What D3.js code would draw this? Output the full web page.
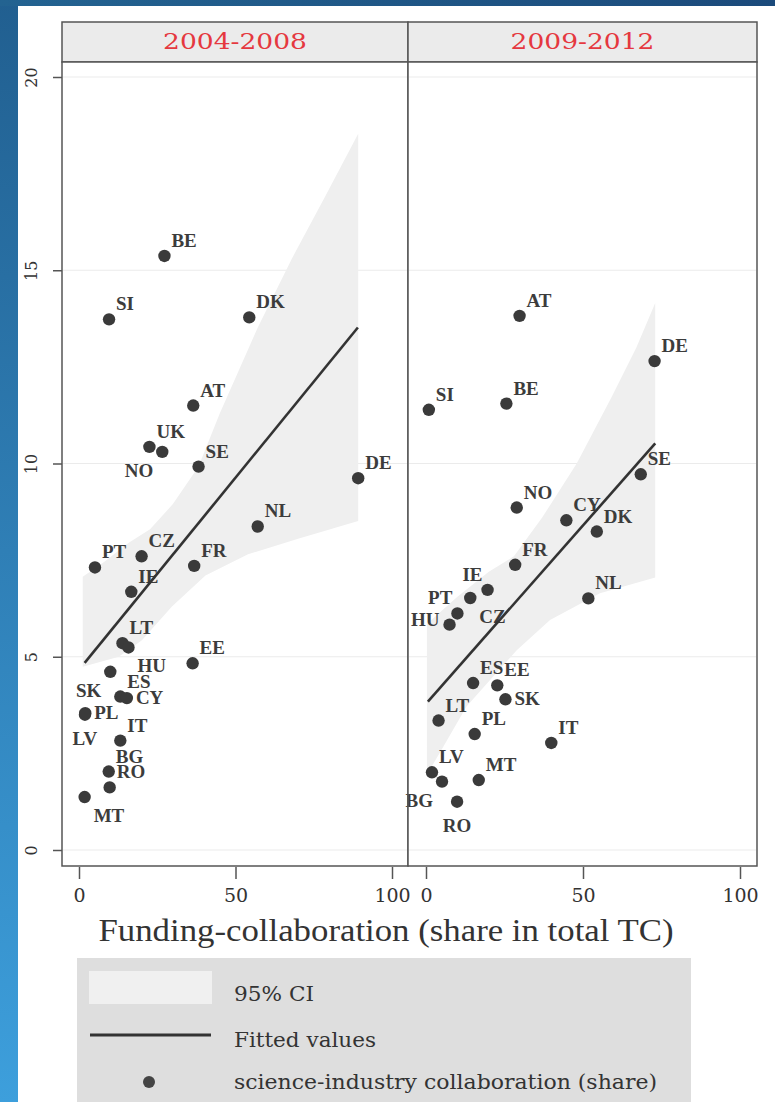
<!DOCTYPE html>
<html><head><meta charset="utf-8">
<script src="https://cdn.jsdelivr.net/npm/d3@7"></script>
<style>html,body{margin:0;padding:0;background:#fff;}svg{display:block;}</style>
</head><body>
<svg id="chart" width="775" height="1102"></svg>
<script>
// ---------- DATA ----------
const panels = ["2004-2008", "2009-2012"];
const yTicks = [0, 5, 10, 15, 20];
const xTicks = [0, 50, 100];

const countries0408 = ["BE","SI","DK","AT","UK","NO","SE","DE","NL","PT","CZ","FR","IE","LT","HU","EE","SK","ES","CY","PL","LV","IT","BG","RO","MT"];
const funding0408   = [27.3, 9.6, 54.4, 36.5, 22.5, 26.6, 38.2, 89.2, 57.1, 5.1, 20.0, 36.8, 16.7, 13.9, 15.8, 36.3, 10.0, 13.2, 15.3, 2.0, 1.9, 13.2, 9.5, 9.8, 1.8];
const sic0408       = [15.37, 13.73, 13.78, 11.50, 10.43, 10.30, 9.92, 9.62, 8.37, 7.31, 7.60, 7.35, 6.68, 5.35, 5.24, 4.83, 4.61, 3.97, 3.93, 3.54, 3.50, 2.83, 2.03, 1.62, 1.37];
const labelClock0408 = [1,1,1,1,1,7,1,1,1,1,1,1,1,1,5,1,7,1,3,3,6,1,1,1,5];

const countries0912 = ["AT","DE","SI","BE","SE","NO","CY","DK","FR","IE","CZ","PT","HU","NL","ES","EE","SK","LT","PL","IT","LV","BG","MT","RO"];
const funding0912   = [29.8, 72.8, 0.9, 25.6, 68.4, 28.9, 44.7, 54.4, 28.4, 19.6, 14.1, 10.0, 7.5, 51.7, 15.0, 22.7, 25.3, 4.0, 15.5, 39.9, 1.9, 5.1, 16.8, 9.9];
const sic0912       = [13.82, 12.65, 11.39, 11.55, 9.72, 8.86, 8.53, 8.24, 7.38, 6.73, 6.52, 6.12, 5.83, 6.51, 4.32, 4.26, 3.90, 3.35, 3.00, 2.77, 2.01, 1.77, 1.81, 1.25];
const labelClock0912 = [1,1,1,1,1,1,1,1,1,11,5,11,9,1,1,1,3,1,1,1,1,7,1,6];

// fitted line end points [funding, sic]
const fit0408 = [[1.8, 4.84], [89.1, 13.52]];
const fit0912 = [[0.6, 3.84], [73.0, 10.52]];

// 95% CI band boundaries [funding, sic]
const ciUpper0408 = [[1.2,7.07],[8,7.45],[15.9,7.95],[22.7,8.3],[30,8.95],[38.2,9.92],[45,11.3],[57,13.5],[68,15.3],[78.6,16.9],[89.2,18.53]];
const ciLower0408 = [[1.2,4.74],[12.7,5.0],[20.1,5.43],[29.7,6.3],[40.4,7.1],[54,7.65],[70,8.05],[89.2,8.51]];
const ciUpper0912 = [[0.3,5.85],[10,6.55],[20,7.2],[28,7.6],[37,8.6],[48,10.0],[59,11.7],[67,13.0],[73,14.15]];
const ciLower0912 = [[0.3,1.95],[5.5,2.67],[12.9,3.71],[20.4,4.40],[28.9,5.17],[39.5,5.95],[55.4,6.64],[73,7.05]];

const legendLabels = ["95% CI", "Fitted values", "science-industry collaboration (share)"];
const xTitle = "Funding-collaboration (share in total TC)";

// ---------- LAYOUT ----------
const svg = d3.select("#chart");
const W = 775, H = 1102;
const panelTop = 62, panelBottom = 866, stripTop = 22;
const panelBounds = [[62, 408], [408, 757]];
const y = d3.scaleLinear().domain([0, 20]).range([850, 77]);
const xScales = [
  d3.scaleLinear().domain([0, 100]).range([79, 392]),
  d3.scaleLinear().domain([0, 100]).range([426, 740])
];
const serif = "'DejaVu Serif', serif";
const tserif = "'Liberation Serif', serif";
const ink = "#3a3a3a";

// background frame
const defs = svg.append("defs");
const g1 = defs.append("linearGradient").attr("id","leftGrad").attr("x1",0).attr("y1",0).attr("x2",0).attr("y2",1);
g1.append("stop").attr("offset","0%").attr("stop-color","#215f90");
g1.append("stop").attr("offset","100%").attr("stop-color","#3d9fdc");
const g2 = defs.append("linearGradient").attr("id","topGrad").attr("x1",0).attr("y1",0).attr("x2",1).attr("y2",0);
g2.append("stop").attr("offset","0%").attr("stop-color","#236391");
g2.append("stop").attr("offset","100%").attr("stop-color","#1b4a7b");
svg.append("rect").attr("width",W).attr("height",H).attr("fill","#ffffff");
svg.append("rect").attr("x",0).attr("y",0).attr("width",18).attr("height",H).attr("fill","url(#leftGrad)");
svg.append("rect").attr("x",0).attr("y",0).attr("width",W).attr("height",6).attr("fill","url(#topGrad)");

const data = [
  {countries: countries0408, fx: funding0408, sy: sic0408, clock: labelClock0408, fit: fit0408, up: ciUpper0408, lo: ciLower0408},
  {countries: countries0912, fx: funding0912, sy: sic0912, clock: labelClock0912, fit: fit0912, up: ciUpper0912, lo: ciLower0912}
];

const clockOffsets = {
  1:  {dx: 7,  dy: -9, anchor: "start"},
  3:  {dx: 9,  dy: 6,  anchor: "start"},
  5:  {dx: 9,  dy: 25, anchor: "start"},
  6:  {dx: 0,  dy: 30, anchor: "middle"},
  7:  {dx: -9, dy: 25, anchor: "end"},
  9:  {dx: -10,dy: 1,  anchor: "end"},
  11: {dx: -5, dy: -9, anchor: "end"},
  12: {dx: 0,  dy: -12,anchor: "middle"}
};

panels.forEach((name, i) => {
  const [l, r] = panelBounds[i];
  const x = xScales[i];
  const d = data[i];
  const g = svg.append("g");

  // strip
  g.append("rect").attr("x", l).attr("y", stripTop).attr("width", r - l).attr("height", panelTop - stripTop)
    .attr("fill", "#ebebeb").attr("stroke", "#555").attr("stroke-width", 1.5);
  g.append("text").attr("x", (l + r) / 2).attr("y", 49).attr("text-anchor", "middle")
    .attr("font-family", serif).attr("font-size", 22).attr("fill", "#e5383f")
    .attr("textLength", 144).attr("lengthAdjust", "spacingAndGlyphs").text(name);

  // plot area
  g.append("rect").attr("x", l).attr("y", panelTop).attr("width", r - l).attr("height", panelBottom - panelTop)
    .attr("fill", "#fff");
  // grid
  g.selectAll(".grid").data(yTicks).enter().append("line")
    .attr("x1", l + 1).attr("x2", r - 1).attr("y1", v => y(v)).attr("y2", v => y(v))
    .attr("stroke", "#ebebeb").attr("stroke-width", 1.2);

  // CI band
  const line = d3.line().x(p => x(p[0])).y(p => y(p[1]));
  const poly = d.up.concat(d.lo.slice().reverse());
  g.append("path").attr("d", line(poly) + "Z").attr("fill", "#efefef").attr("stroke", "none");

  // points
  const idx = d.countries.map((c, k) => k);
  g.selectAll(".pt").data(idx).enter().append("circle")
    .attr("cx", k => x(d.fx[k])).attr("cy", k => y(d.sy[k])).attr("r", 6.2).attr("fill", ink);
  g.selectAll(".lbl").data(idx).enter().append("text")
    .attr("x", k => x(d.fx[k]) + clockOffsets[d.clock[k]].dx)
    .attr("y", k => y(d.sy[k]) + clockOffsets[d.clock[k]].dy)
    .attr("text-anchor", k => clockOffsets[d.clock[k]].anchor)
    .attr("font-family", tserif).attr("font-weight", "bold").attr("font-size", 19).attr("fill", "#3c3c3c")
    .text(k => d.countries[k]);

  // fitted line
  g.append("path").attr("d", line(d.fit)).attr("stroke", "#333").attr("stroke-width", 2.6).attr("fill", "none");

  // border
  g.append("rect").attr("x", l).attr("y", panelTop).attr("width", r - l).attr("height", panelBottom - panelTop)
    .attr("fill", "none").attr("stroke", "#555").attr("stroke-width", 1.5);

  // x axis
  const xa = g.append("g").attr("transform", `translate(0,${panelBottom + 1})`)
    .call(d3.axisBottom(x).tickValues(xTicks).tickSize(12).tickPadding(10).tickFormat(d3.format("d")));
  xa.select(".domain").remove();
  xa.selectAll(".tick line").attr("stroke", "#555").attr("stroke-width", 1.5);
  xa.selectAll(".tick text").attr("font-family", serif).attr("font-size", 19).attr("fill", "#333");
});

// y axis (left panel)
const ya = svg.append("g").attr("transform", `translate(${panelBounds[0][0]},0)`)
  .call(d3.axisLeft(y).tickValues(yTicks).tickSize(9).tickPadding(0).tickFormat(d3.format("d")));
ya.select(".domain").remove();
ya.selectAll(".tick line").attr("stroke", "#555").attr("stroke-width", 1.5);
ya.selectAll(".tick text")
  .attr("font-family", serif).attr("font-size", 16).attr("fill", "#333")
  .attr("x", 0).attr("dy", 0).attr("text-anchor", "middle").attr("dominant-baseline", "central")
  .attr("transform", "translate(-31,0) rotate(-90)");

// x title
svg.append("text").attr("x", 386).attr("y", 941).attr("text-anchor", "middle")
  .attr("font-family", tserif).attr("font-size", 31).attr("fill", "#333")
  .attr("textLength", 575).attr("lengthAdjust", "spacingAndGlyphs").text(xTitle);

// legend
const lg = svg.append("g");
lg.append("rect").attr("x", 77).attr("y", 958).attr("width", 614).attr("height", 160).attr("fill", "#dedede");
lg.append("rect").attr("x", 89).attr("y", 971).attr("width", 123).attr("height", 33).attr("fill", "#f0f0f0");
lg.append("line").attr("x1", 90).attr("x2", 211).attr("y1", 1035).attr("y2", 1035).attr("stroke", "#333").attr("stroke-width", 3);
lg.append("circle").attr("cx", 149).attr("cy", 1082).attr("r", 6).attr("fill", "#444");
const legendY = [1001, 1047, 1089];
const legendW = [80, 142, 423];
legendLabels.forEach((t, k) => {
  lg.append("text").attr("x", 234).attr("y", legendY[k]).attr("font-family", serif).attr("font-size", 21)
    .attr("fill", "#333").attr("textLength", legendW[k]).attr("lengthAdjust", "spacingAndGlyphs").text(t);
});
</script>
</body></html>
